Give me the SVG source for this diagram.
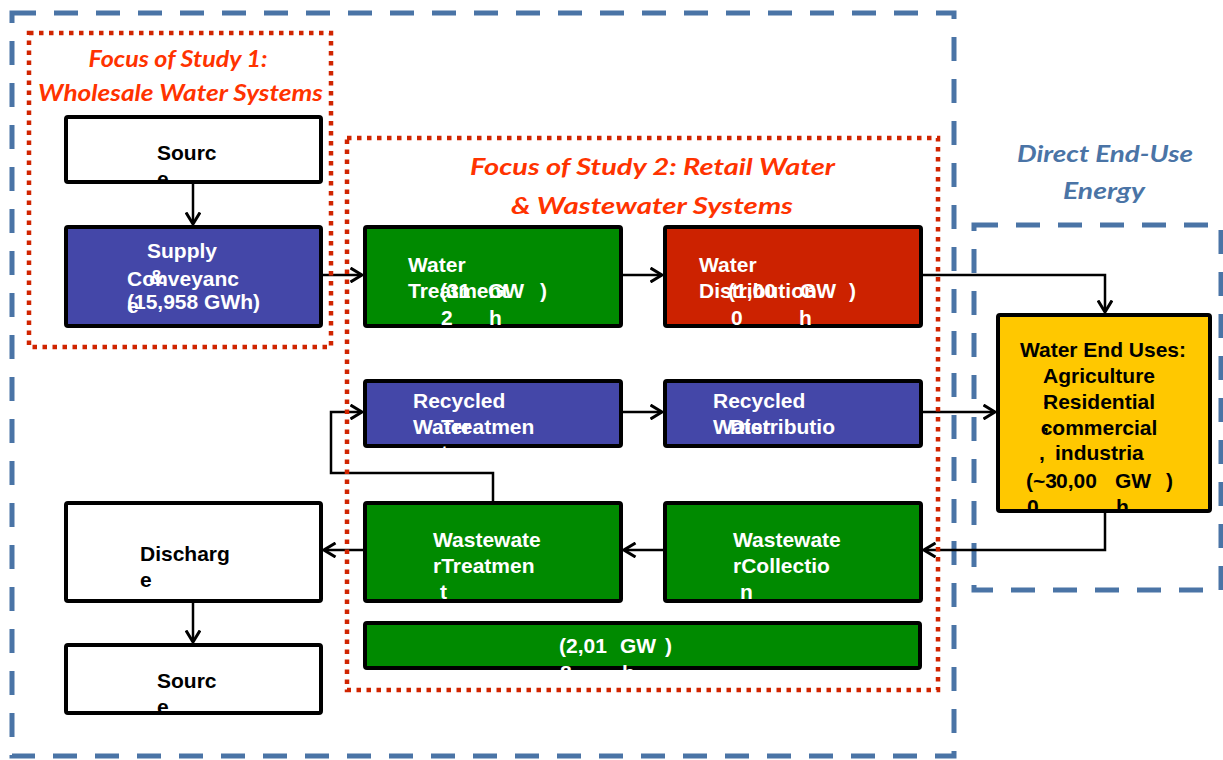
<svg xmlns="http://www.w3.org/2000/svg" width="1223" height="760" viewBox="0 0 1223 760">
<style>
.bl{fill:none;stroke:#4a74a6;stroke-width:5;stroke-dasharray:24 18}
.rd{fill:none;stroke:#d02400;stroke-width:4.5;stroke-dasharray:4.5 5.5}
.ttl{font-family:Lato,"Liberation Sans",sans-serif;font-weight:bold;font-style:italic;font-size:22px;text-anchor:middle}
.red{fill:#ff3300}
.blu{fill:#4a74a6}
.box{stroke:#000;stroke-width:4}
.t{font-family:"Liberation Sans",Arial,sans-serif;font-weight:bold;font-size:21px}
.w{fill:#fff}
.k{fill:#000}
.c{fill:none;stroke:#000;stroke-width:2.5}
</style>
<defs>
<marker id="ah" markerUnits="userSpaceOnUse" viewBox="0 0 14 16" refX="12.5" refY="8" markerWidth="14" markerHeight="16" orient="auto">
<path d="M1,1 L12.5,8 L1,15" fill="none" stroke="#000" stroke-width="3"/>
</marker>
<clipPath id="c1"><rect x="64" y="115" width="259" height="69"/></clipPath>
<clipPath id="c2"><rect x="64" y="225" width="259" height="103"/></clipPath>
<clipPath id="c3"><rect x="363" y="225" width="260" height="103"/></clipPath>
<clipPath id="c4"><rect x="663" y="225" width="260" height="103"/></clipPath>
<clipPath id="c5"><rect x="363" y="379" width="260" height="69"/></clipPath>
<clipPath id="c6"><rect x="663" y="379" width="260" height="69"/></clipPath>
<clipPath id="c7"><rect x="996" y="313" width="216" height="200"/></clipPath>
<clipPath id="c8"><rect x="363" y="501" width="260" height="102"/></clipPath>
<clipPath id="c9"><rect x="663" y="501" width="260" height="102"/></clipPath>
<clipPath id="c10"><rect x="64" y="501" width="259" height="102"/></clipPath>
<clipPath id="c11"><rect x="64" y="643" width="259" height="72"/></clipPath>
<clipPath id="c12"><rect x="363" y="621" width="559" height="49"/></clipPath>
</defs>
<rect width="1223" height="760" fill="#fff"/>

<g id="regions">
<path class="bl" d="M12,13 H954 V756 H12 Z"/>
<path class="bl" d="M974,225 H1221 V590 H974 Z"/>
<text class="ttl red" x="178" y="67" textLength="179" lengthAdjust="spacingAndGlyphs">Focus of Study 1:</text>
<text class="ttl red" x="180.5" y="101" textLength="285" lengthAdjust="spacingAndGlyphs">Wholesale Water Systems</text>
<text class="ttl red" x="652.5" y="175" textLength="365" lengthAdjust="spacingAndGlyphs">Focus of Study 2: Retail Water</text>
<text class="ttl red" x="652" y="214" textLength="282" lengthAdjust="spacingAndGlyphs">&amp; Wastewater Systems</text>
<text class="ttl blu" x="1105" y="162" textLength="176" lengthAdjust="spacingAndGlyphs">Direct End-Use</text>
<text class="ttl blu" x="1104" y="199" textLength="82" lengthAdjust="spacingAndGlyphs">Energy</text>
</g>

<g id="connectors">
<path class="c" d="M193,184 V224" marker-end="url(#ah)"/>
<path class="c" d="M323,275 H362" marker-end="url(#ah)"/>
<path class="c" d="M623,275 H662" marker-end="url(#ah)"/>
<path class="c" d="M923,275 H1105 V312" marker-end="url(#ah)"/>
<path class="c" d="M623,412 H662" marker-end="url(#ah)"/>
<path class="c" d="M923,412 H995" marker-end="url(#ah)"/>
<path class="c" d="M1105,513 V550 H924" marker-end="url(#ah)"/>
<path class="c" d="M663,550 H624" marker-end="url(#ah)"/>
<path class="c" d="M363,550 H324" marker-end="url(#ah)"/>
<path class="c" d="M493,501 V473 H331 V412 H362" marker-end="url(#ah)"/>
<path class="c" d="M193,603 V642" marker-end="url(#ah)"/>
</g>

<g id="source-top">
<rect class="box" x="66" y="117" width="255" height="65" fill="#fff" rx="2"/>
<g clip-path="url(#c1)" class="t k"><text x="157" y="160">Sourc</text><text x="157" y="186">e</text></g>
</g>

<g id="supply-conveyance">
<rect class="box" x="66" y="227" width="255" height="99" fill="#4447a8" rx="2"/>
<g clip-path="url(#c2)" class="t w">
<text x="147" y="258">Supply</text>
<text x="127" y="286">Conveyanc</text>
<text x="149" y="284">&amp;</text>
<text x="127" y="313">e</text>
<text x="127" y="309">(15,958 GWh)</text>
</g>
</g>

<g id="water-treatment">
<rect class="box" x="365" y="227" width="256" height="99" fill="#008a00" rx="2"/>
<g clip-path="url(#c3)" class="t w">
<text x="408" y="272">Water</text>
<text x="408" y="298">Treatment</text>
<text x="440" y="298">(31</text>
<text x="488" y="298">GW</text>
<text x="540" y="298">)</text>
<text x="441" y="325">2</text>
<text x="489" y="325">h</text>
</g>
</g>

<g id="water-distribution">
<rect class="box" x="665" y="227" width="256" height="99" fill="#cc2200" rx="2"/>
<g clip-path="url(#c4)" class="t w">
<text x="699" y="272">Water</text>
<text x="699" y="298">Distribution</text>
<text x="728" y="298">(1,00</text>
<text x="800" y="298">GW</text>
<text x="849" y="298">)</text>
<text x="731" y="325">0</text>
<text x="799" y="325">h</text>
</g>
</g>

<g id="recycled-treatment">
<rect class="box" x="365" y="381" width="256" height="65" fill="#4447a8" rx="2"/>
<g clip-path="url(#c5)" class="t w">
<text x="413" y="408">Recycled</text>
<text x="413" y="434">Water</text>
<text x="441" y="434">Treatmen</text>
<text x="441" y="460">t</text>
</g>
</g>

<g id="recycled-distribution">
<rect class="box" x="665" y="381" width="256" height="65" fill="#4447a8" rx="2"/>
<g clip-path="url(#c6)" class="t w">
<text x="713" y="408">Recycled</text>
<text x="713" y="434">Water</text>
<text x="730" y="434">Distributio</text>
<text x="730" y="460">n</text>
</g>
</g>

<g id="water-end-uses">
<rect class="box" x="998" y="315" width="212" height="196" fill="#ffc800" rx="2"/>
<g clip-path="url(#c7)" class="t k">
<text x="1103" y="357" text-anchor="middle">Water End Uses:</text>
<text x="1099" y="383" text-anchor="middle">Agriculture</text>
<text x="1099" y="409" text-anchor="middle">Residential</text>
<text x="1043" y="405">,</text>
<text x="1099" y="435" text-anchor="middle">commercial</text>
<text x="1043" y="431">,</text>
<text x="1039" y="460">,</text>
<text x="1055" y="460">industria</text>
<text x="1026" y="488">(~3</text>
<text x="1056" y="488">0,00</text>
<text x="1115" y="488">GW</text>
<text x="1166" y="488">)</text>
<text x="1027" y="514">0</text>
<text x="1116" y="514">h</text>
</g>
</g>

<g id="wastewater-treatment">
<rect class="box" x="365" y="503" width="256" height="98" fill="#008a00" rx="2"/>
<g clip-path="url(#c8)" class="t w">
<text x="433" y="547">Wastewate</text>
<text x="433" y="573">rTreatmen</text>
<text x="440" y="599">t</text>
</g>
</g>

<g id="wastewater-collection">
<rect class="box" x="665" y="503" width="256" height="98" fill="#008a00" rx="2"/>
<g clip-path="url(#c9)" class="t w">
<text x="733" y="547">Wastewate</text>
<text x="733" y="573">rCollectio</text>
<text x="740" y="599">n</text>
</g>
</g>

<g id="discharge">
<rect class="box" x="66" y="503" width="255" height="98" fill="#fff" rx="2"/>
<g clip-path="url(#c10)" class="t k">
<text x="140" y="561">Discharg</text>
<text x="140" y="587">e</text>
</g>
</g>

<g id="source-bottom">
<rect class="box" x="66" y="645" width="255" height="68" fill="#fff" rx="2"/>
<g clip-path="url(#c11)" class="t k"><text x="157" y="688">Sourc</text><text x="157" y="714">e</text></g>
</g>

<g id="wastewater-energy">
<rect class="box" x="365" y="623" width="555" height="45" fill="#008a00" rx="2"/>
<g clip-path="url(#c12)" class="t w">
<text x="559" y="653">(2,01</text>
<text x="620" y="653">GW</text>
<text x="665" y="653">)</text>
<text x="560" y="680">8</text>
<text x="622" y="680">h</text>
</g>
</g>

<g id="study-boxes">
<path class="rd" d="M29,33 H331 V347 H29 Z"/>
<path class="rd" d="M347,138 H938 V690 H347 Z"/>
</g>
</svg>
